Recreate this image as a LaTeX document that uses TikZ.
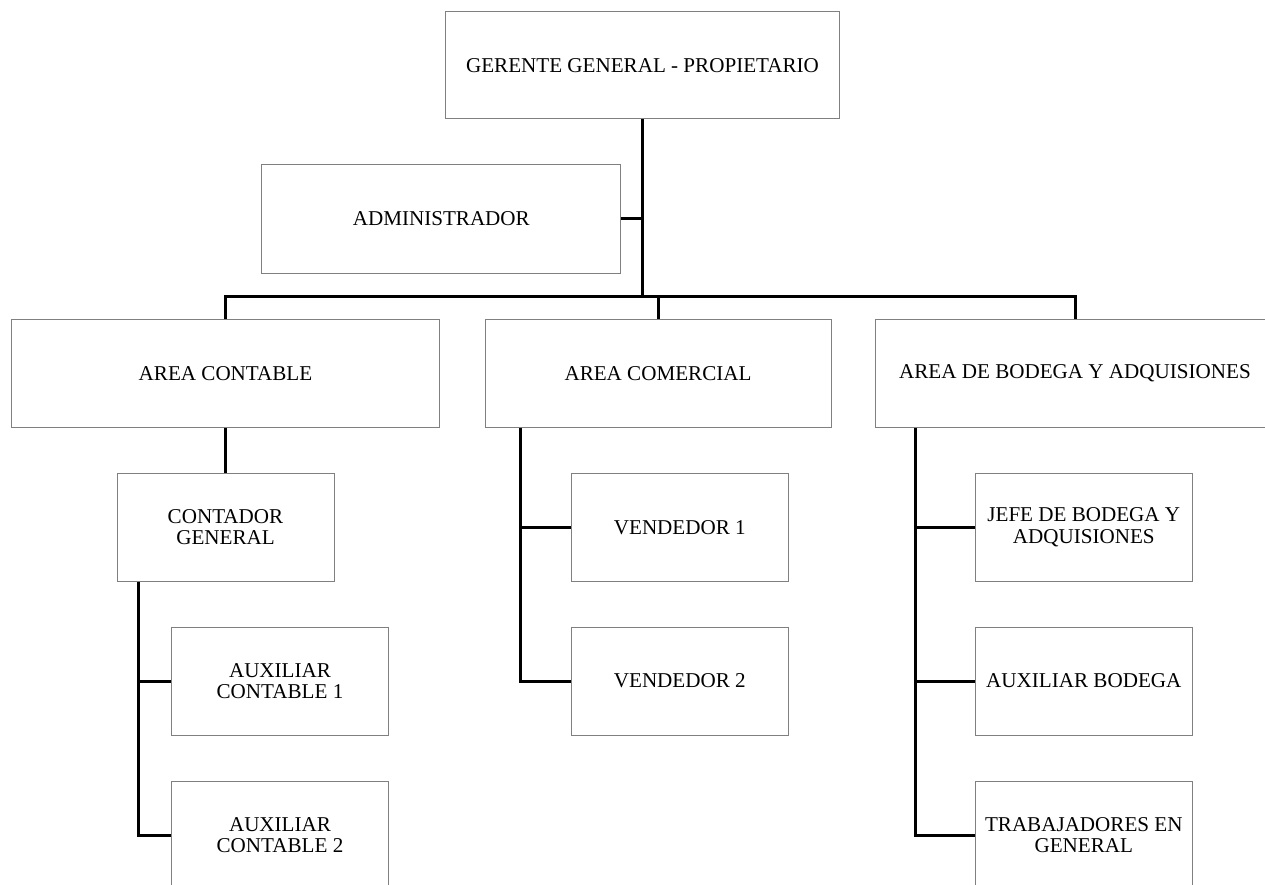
\documentclass[tikz,border=0pt]{standalone}
\usepackage{fontspec}
\setmainfont{Liberation Serif}
\begin{document}
\begin{tikzpicture}[x=1pt,y=-1pt,
  box/.style={draw=black!50, line width=1pt, rectangle, inner sep=0pt,
    minimum height=108pt, align=center,
    font=\fontsize{21.1}{21.7}\selectfont},
  conn/.style={draw=black, line width=3pt}]
  \useasboundingbox (0,0) rectangle (1265,884);
  \clip (0,0) rectangle (1265,884);

  % top level
  \node[box, minimum width=394pt, minimum height=107pt] (ger) at (642.5,65.3) {GERENTE GENERAL - PROPIETARIO};
  \node[box, minimum width=359pt, minimum height=109pt] (adm) at (441.3,218.8) {ADMINISTRADOR};

  % areas
  \node[box, minimum width=428pt] (ac)   at (225.5,373.7) {AREA CONTABLE};
  \node[box, minimum width=346pt] (acom) at (658,373.7)   {AREA COMERCIAL};
  \node[box, minimum width=400pt] (abod) at (1075,373.7)  {AREA DE BODEGA Y ADQUISIONES};

  % accounting
  \node[box, minimum width=217pt] (cont) at (225.5,527) {CONTADOR\\GENERAL};
  \node[box, minimum width=217pt] (aux1) at (280,681)   {AUXILIAR\\CONTABLE 1};
  \node[box, minimum width=217pt] (aux2) at (280,835)   {AUXILIAR\\CONTABLE 2};

  % sales
  \node[box, minimum width=217pt] (v1) at (679.8,527.3) {VENDEDOR 1};
  \node[box, minimum width=217pt] (v2) at (679.8,681)   {VENDEDOR 2};

  % warehouse
  \node[box, minimum width=217pt] (jefe) at (1083.8,527) {JEFE DE BODEGA Y\\ADQUISIONES};
  \node[box, minimum width=217pt] (auxb) at (1083.8,681) {AUXILIAR BODEGA};
  \node[box, minimum width=217pt] (trab) at (1083.8,835) {TRABAJADORES EN\\GENERAL};

  % connectors
  \coordinate (hub) at (ger.south |- 0,296);
  \draw[conn] (ger.south) -- (hub);
  \draw[conn] (adm.east) -- (adm.east -| hub);
  \draw[conn] (ac.north) |- (abod.north |- hub) -- (abod.north);
  \draw[conn] (acom.north |- hub) -- (acom.north);
  \draw[conn] (ac.south) -- (cont.north);

  \coordinate (cbus) at ([xshift=22pt]cont.south west);
  \draw[conn] (cbus) |- (aux2.west);
  \draw[conn] (cbus |- aux1.west) -- (aux1.west);

  \coordinate (vbus) at ([xshift=35.7pt]acom.south west);
  \draw[conn] (vbus) |- (v2.west);
  \draw[conn] (vbus |- v1.west) -- (v1.west);

  \coordinate (bbus) at ([xshift=41pt]abod.south west);
  \draw[conn] (bbus) |- (trab.west);
  \draw[conn] (bbus |- jefe.west) -- (jefe.west);
  \draw[conn] (bbus |- auxb.west) -- (auxb.west);
\end{tikzpicture}
\end{document}
